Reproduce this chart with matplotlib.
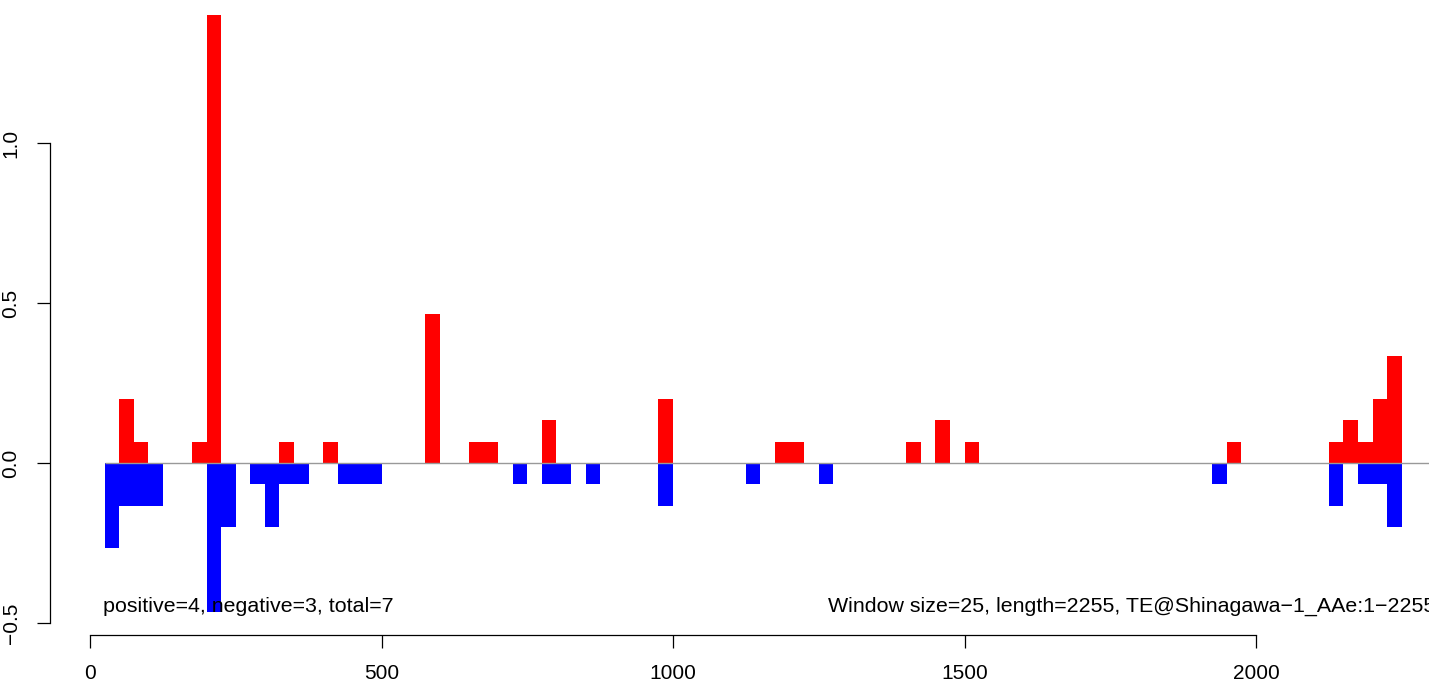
# -*- coding: utf-8 -*-
# Perfil de ventanas positivo / negativo (estilo R base)

import matplotlib
matplotlib.use('Agg')
import matplotlib.pyplot as plt

plt.rcParams['font.family'] = ['Liberation Sans', 'DejaVu Sans']

ventana = 25
longitud = 2255

# inicio de cada ventana y su valor (rojo = positivo)
pos_inicio = [50, 75, 175, 200, 325, 400, 575, 650, 675, 775, 975, 1175, 1200,
              1400, 1450, 1500, 1950, 2125, 2150, 2175, 2200, 2225]
pos_valor = [0.2, 0.0667, 0.0667, 1.4, 0.0667, 0.0667, 0.4667, 0.0667, 0.0667,
             0.1333, 0.2, 0.0667, 0.0667, 0.0667, 0.1333, 0.0667, 0.0667,
             0.0667, 0.1333, 0.0667, 0.2, 0.3333]

# azul = negativo
neg_inicio = [25, 50, 75, 100, 200, 225, 275, 300, 325, 350, 425, 450, 475,
              725, 775, 800, 850, 975, 1125, 1250, 1925, 2125, 2175, 2200, 2225]
neg_valor = [-0.2667, -0.1333, -0.1333, -0.1333, -0.4667, -0.2, -0.0667, -0.2,
             -0.0667, -0.0667, -0.0667, -0.0667, -0.0667, -0.0667, -0.0667,
             -0.0667, -0.0667, -0.1333, -0.0667, -0.0667, -0.0667, -0.1333,
             -0.0667, -0.0667, -0.2]

x_ticks = [0, 500, 1000, 1500, 2000]
y_ticks = [-0.5, 0.0, 0.5, 1.0]
texto_izq = 'positive=4, negative=3, total=7'
texto_der = 'Window size=25, length=2255, TE@Shinagawa\u22121_AAe:1\u22122255'

fig = plt.figure(figsize=(14.29, 6.82), dpi=100)
ax = fig.add_axes([0, 0, 1, 1])

# escala: x_px = 90 + 0.583*x ; y_px = 463 - 320*y
ax.set_xlim(-154.4, 2296.7)
ax.set_ylim(-0.684, 1.447)

ax.bar(pos_inicio, pos_valor, width=ventana, align='edge', color='red', linewidth=0)
ax.bar(neg_inicio, neg_valor, width=ventana, align='edge', color='blue', linewidth=0)
ax.hlines(0, ventana, 2344, color='#999999', linewidth=1.0, zorder=3)

ax.text(ventana - 3, -0.4485, texto_izq, fontsize=15.4, ha='left', va='center')
ax.text(2307, -0.4485, texto_der, fontsize=15.4, ha='right', va='center')

# ejes separados al estilo R
for lado in ['top', 'right']:
    ax.spines[lado].set_visible(False)
ax.spines['left'].set_position(('data', -68))
ax.spines['left'].set_bounds(-0.5, 1.0)
ax.spines['bottom'].set_position(('data', -0.5375))
ax.spines['bottom'].set_bounds(0, 2000)
for lado in ['left', 'bottom']:
    ax.spines[lado].set_linewidth(0.9)

ax.set_xticks(x_ticks)
ax.set_xticklabels([str(v) for v in x_ticks])
ax.set_yticks(y_ticks)
ax.set_yticklabels(['\u22120.5', '0.0', '0.5', '1.0'], rotation=90, va='center')
ax.tick_params(axis='both', direction='out', length=9.5, width=0.9,
               labelsize=15, pad=11)
ax.tick_params(axis='y', pad=12)

fig.savefig('out.png', dpi=100)
